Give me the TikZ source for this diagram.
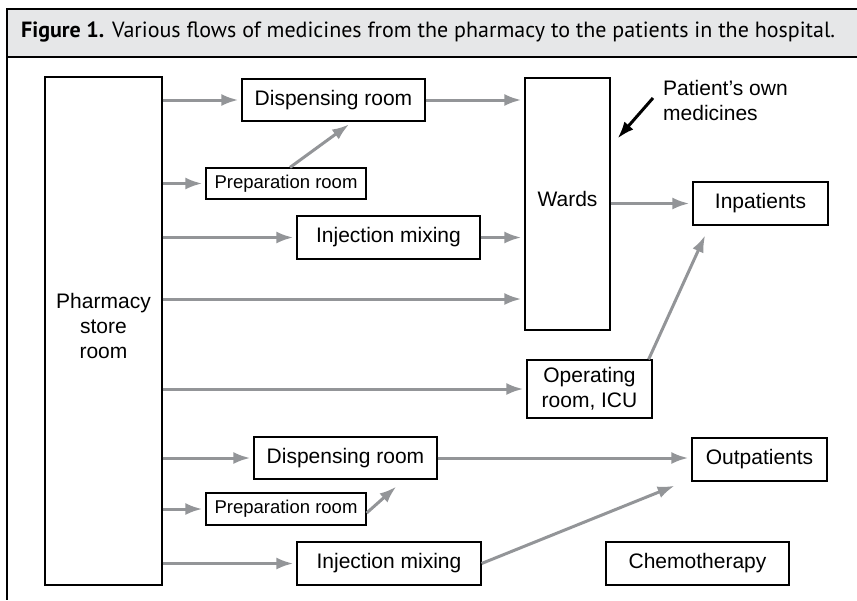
\documentclass[tikz,border=0pt]{standalone}
\usepackage{fontspec}
\setmainfont{Liberation Sans}
\newfontfamily\captionfont{PT Sans}
\usetikzlibrary{arrows.meta,calc,positioning}
\definecolor{flowgray}{HTML}{939598}
\definecolor{bargray}{HTML}{E6E7E8}

\begin{document}
\begin{tikzpicture}[x=1pt,y=-1pt,
    box/.style={rectangle, draw, line width=1.2pt, inner sep=0pt, align=center, font=\fontsize{21}{25}\selectfont},
    smallbox/.style={box, font=\fontsize{18.5}{22}\selectfont},
    flow/.style={draw=flowgray, line width=3pt, -{Latex[length=17pt,width=12pt]}, shorten >=3pt}]
    \useasboundingbox (0,0) rectangle (857,600);
    % caption bar and frame
    \fill[bargray] (7,9) rectangle (857,57);
    \draw[line width=1.2pt] (857,9) -- (7,9) -- (7,600);
    \draw[line width=1.2pt] (7,57) -- (857,57);
    \node(title) [anchor=west, inner sep=0pt, font=\captionfont\fontsize{22}{26}\selectfont] at (21,32) {\textbf{Figure 1.} Various flows of medicines from the pharmacy to the patients in the hospital.};

    \node(pharm) [box, minimum width=117pt, minimum height=508pt] at (103.5,331) {Pharmacy\\store\\room\\[-14pt]};
    \node(dispA) [box, minimum width=183pt, minimum height=42pt] at (333.5,100) {Dispensing room};
    \node(prepA) [smallbox, minimum width=160pt, minimum height=31pt] at (286,183.5) {Preparation room};
    \node(injA) [box, minimum width=183pt, minimum height=43pt] at (388.5,237.5) {Injection mixing};
    \node(wards) [box, minimum width=85pt, minimum height=252pt] at (567.5,204) {Wards\\[-14pt]};
    \node(inp) [box, minimum width=135pt, minimum height=43pt] at (760.5,203.5) {Inpatients\strut};
    \node(orr) [box, minimum width=125pt, minimum height=58pt] at (589.5,389) {Operating\\room, ICU};
    \node(dispB) [box, minimum width=183pt, minimum height=42pt] at (345.5,458) {Dispensing room\strut};
    \node(outp) [box, minimum width=135pt, minimum height=43pt] at (759.5,459.5) {Outpatients\strut};
    \node(prepB) [smallbox, minimum width=160pt, minimum height=32pt] at (286,509) {Preparation room};
    \node(injB) [box, minimum width=184pt, minimum height=43pt] at (389,563.5) {Injection mixing};
    \node(chemo) [box, minimum width=183pt, minimum height=43pt] at (697.5,563.5) {Chemotherapy};
    \node(pom) [anchor=west, align=left, inner sep=0pt, font=\fontsize{21}{25}\selectfont] at (663,100) {Patient’s own\\medicines};

    \coordinate(wardsin) at ([yshift=-95pt]wards.west);

    % flows from the store room
    \draw[flow] (pharm.east |- dispA.west) -- (dispA.west);
    \draw[flow] (pharm.east |- prepA.west) -- (prepA.west);
    \draw[flow] (pharm.east |- injA.west) -- (injA.west);
    \draw[flow] (pharm.east |- wardsin) -- (wardsin);
    \draw[flow] (pharm.east |- orr.west) -- (orr.west);
    \draw[flow] (pharm.east |- dispB.west) -- (dispB.west);
    \draw[flow] (pharm.east |- prepB.west) -- (prepB.west);
    \draw[flow] (pharm.east |- injB.west) -- (injB.west);

    % inpatient side
    \draw[flow] ([xshift=4pt]prepA.north) -- ([xshift=18pt,yshift=-1pt]dispA.south);
    \draw[flow] (dispA.east) -- (dispA.east -| wards.west);
    \draw[flow] (injA.east) -- (injA.east -| wards.west);
    \draw[flow] (wards.east |- inp.west) -- (inp.west);
    \draw[flow] ([xshift=-4pt]orr.north east) -- ([xshift=14pt,yshift=-7pt]inp.south west);
    \draw[line width=3pt, -{Latex[length=17pt,width=12pt]}] ([xshift=-10pt,yshift=2pt]pom.west) -- ([xshift=7pt,yshift=-61pt]wards.north east);

    % outpatient side
    \draw[flow] (dispB.east) -- (dispB.east -| outp.west);
    \draw[flow] ([yshift=-4pt]prepB.east) -- ([xshift=53pt,yshift=-5pt]dispB.south);
    \draw[flow] (injB.east) -- ([xshift=-14pt,yshift=-3pt]outp.south west);
\end{tikzpicture}
\end{document}
